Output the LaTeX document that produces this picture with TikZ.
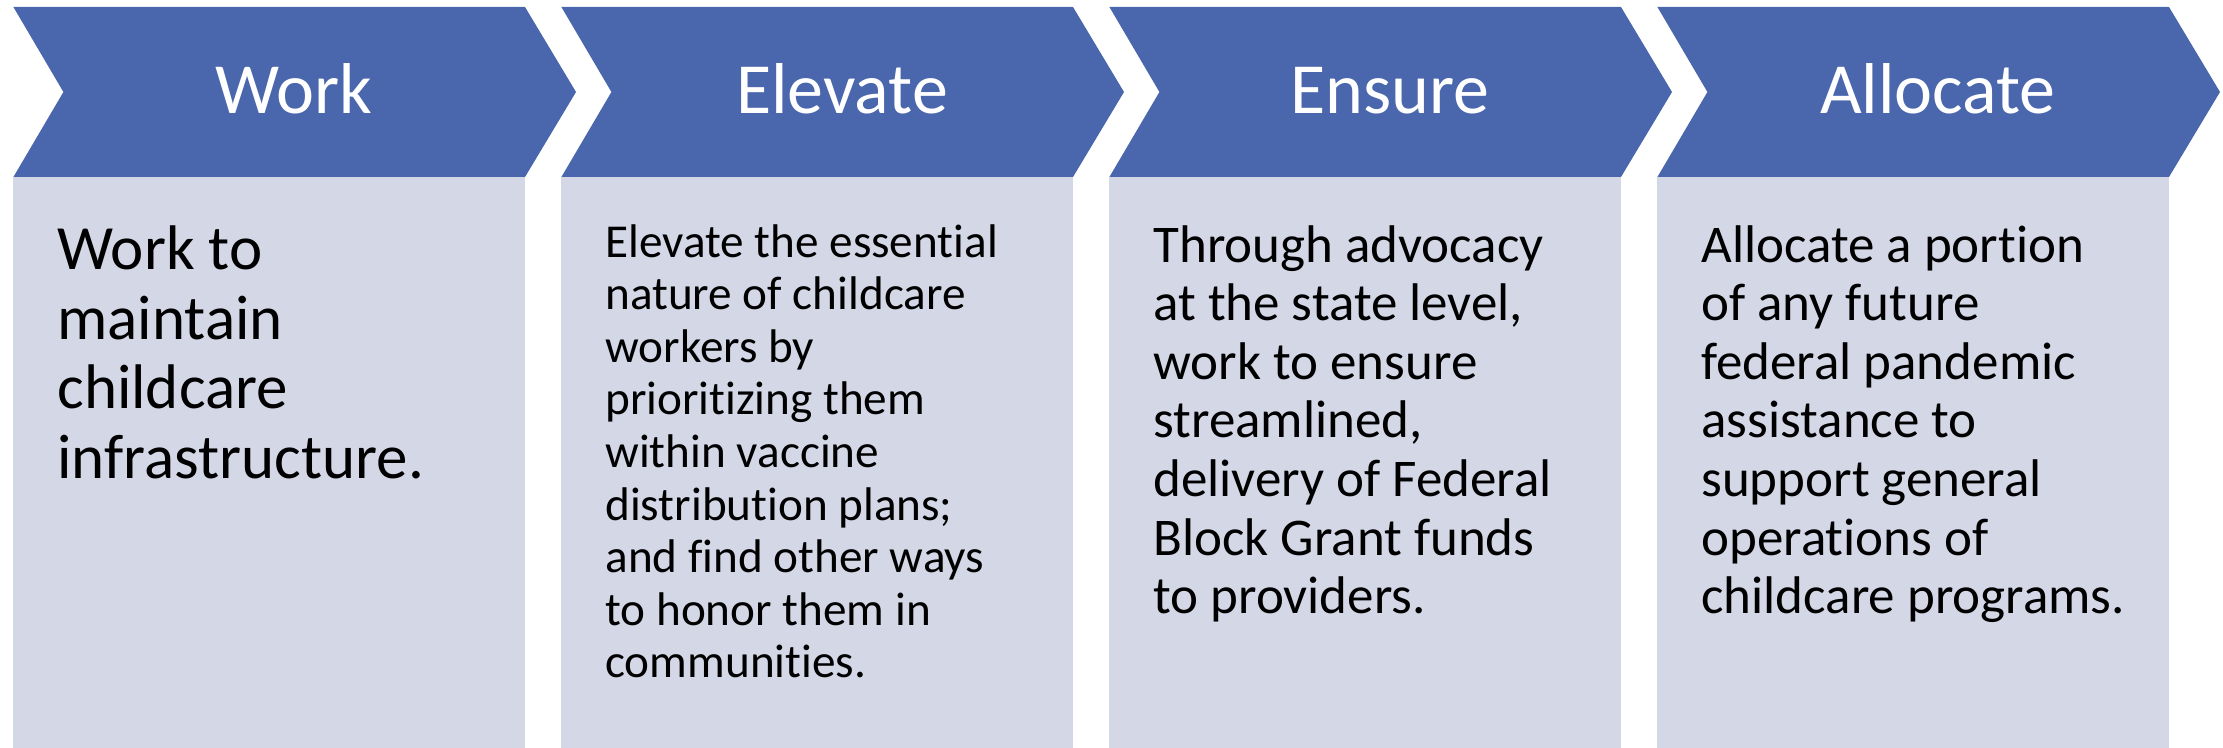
\documentclass[tikz,border=0pt]{standalone}
\usepackage{fontspec}
\setmainfont{Carlito}[Ligatures=NoCommon]
\usepackage{xcolor}
\definecolor{azulChev}{HTML}{4A66AC}
\definecolor{grisCard}{HTML}{D3D7E6}
\usepackage{tikz}
\usetikzlibrary{positioning}

\begin{document}
\begin{tikzpicture}[x=0.5pt,y=-0.5pt,
 chev/.style={fill=azulChev},
 card/.style={fill=grisCard},
 head/.style={anchor=base,text=white,inner sep=0pt,font=\fontsize{36}{40}\selectfont},
 body/.style={anchor=base west,align=left,inner sep=0pt,text=black}]
 \useasboundingbox (0,0) rectangle (2223,748);
 \foreach \i/\nm/\ttl in {0/work/Work,1/elevate/Elevate,2/ensure/Ensure,3/allocate/Allocate}{
  \pgfmathsetmacro\xa{13.4+548*\i}
  \fill[chev] (\xa,7) -- ++(511.6,0) -- ++(51,85) -- ++(-51,85) -- ++(-511.6,0) -- ++(50,-85) -- cycle;
  \fill[card] (\xa,177) rectangle ++(511.6,571);
  \node[head] (\nm) at (\xa+280.6,114) {\ttl};
 }
 % base anchor sits on the last line
 \node[body,font=\fontsize{31.5}{34.75}\selectfont] (workTxt) at (57,478.5)
  {Work to\\maintain\\childcare\\infrastructure.};
 \node[body,font=\fontsize{23.6}{26.3}\selectfont] (elevateTxt) at (605,677.8)
  {Elevate the essential\\nature of childcare\\workers by\\prioritizing them\\within vaccine\\distribution plans;\\and find other ways\\to honor them in\\communities.};
 \node[body,font=\fontsize{26.5}{29.3}\selectfont] (ensureTxt) at (1153,613.6)
  {Through advocacy\\at the state level,\\work to ensure\\streamlined,\\delivery of Federal\\Block Grant funds\\to providers.};
 \node[body,font=\fontsize{26.5}{29.3}\selectfont] (allocateTxt) at (1701,613.6)
  {Allocate a portion\\of any future\\federal pandemic\\assistance to\\support general\\operations of\\childcare programs.};
\end{tikzpicture}
\end{document}
